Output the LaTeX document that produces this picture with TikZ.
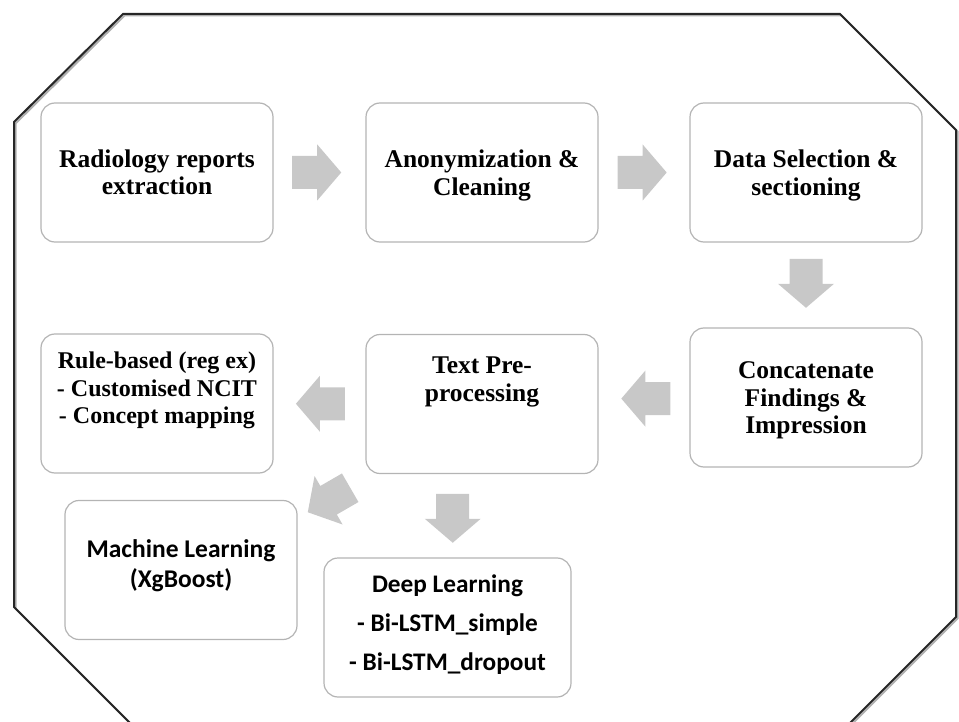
\documentclass[tikz,border=0pt]{standalone}
\usepackage{fontspec}
\setmainfont{Liberation Serif}
\newfontfamily\calibrifont{Carlito}
\usetikzlibrary{calc}
\definecolor{boxline}{RGB}{180,180,180}
\definecolor{arrowfill}{RGB}{200,200,200}
\definecolor{frameshadow}{RGB}{175,175,175}
\tikzset{
  box/.style={draw=boxline, line width=1.2pt, rounded corners=14pt, fill=white,
    minimum width=232pt, minimum height=139pt, inner sep=0pt},
  serif/.style={font=\bfseries\fontsize{25.5}{27.5}\selectfont, align=center, inner sep=0pt},
  ruletxt/.style={font=\bfseries\fontsize{24}{27.5}\selectfont, align=center, inner sep=0pt},
  sanstxt/.style={font=\calibrifont\bfseries\fontsize{25.5}{30}\selectfont, align=center, inner sep=0pt},
  dltxt/.style={font=\calibrifont\bfseries\fontsize{25.3}{39}\selectfont, align=center, inner sep=0pt},
  blockarrow/.pic={
    \fill[arrowfill] (-24.5,-16.5) -- (0.5,-16.5) -- (0.5,-28) -- (24.5,0)
      -- (0.5,28) -- (0.5,16.5) -- (-24.5,16.5) -- cycle;
    \coordinate (-c) at (0,0);
  },
  frame/.style={line width=2pt, line join=miter}
}
\begin{document}
\begin{tikzpicture}[x=1pt,y=-1pt]
\useasboundingbox (0,0) rectangle (959,722);
\clip (0,0) rectangle (959,722);
% octagon frame
\draw[frame, frameshadow, shift={(1.5,1.5)}] (123,14) -- (840,14) -- (956,130) -- (956,617) -- (826,747) -- (154,747) -- (14,607) -- (14,122) -- cycle;
\draw[frame, black!85] (123,14) -- (840,14) -- (956,130) -- (956,617) -- (826,747) -- (154,747) -- (14,607) -- (14,122) -- cycle;

% boxes
\node[box] (b1) at (157,172.5) {};
\node[box] (b2) at (482,172.5) {};
\node[box] (b3) at (806,172.5) {};
\node[box] (b4) at (806,397.5) {};
\node[box] (b5) at (482,404) {};
\node[box] (b6) at (157,403.5) {};
\node[box] (b7) at (181,570) {};
\node[box, minimum width=247pt] (b8) at (447.5,627.5) {};

% texts
\node[serif] (t1) at (b1.center) {Radiology reports\\extraction};
\node[serif] (t2) at ($(b2.center)+(0,3)$) {Anonymization \&\\Cleaning};
\node[serif] (t3) at ($(b3.center)+(0,3)$) {Data Selection \&\\sectioning};
\node[serif] (t4) at ($(b4.center)+(0,3)$) {Concatenate\\Findings \&\\Impression};
\node[serif] (t5) at ($(b5.center)+(0,-22)$) {Text Pre-\\processing};
\node[ruletxt] (t6) at ($(b6.center)+(0,-13)$) {Rule-based (reg ex)\\- Customised NCIT\\- Concept mapping};
\node[sanstxt] (t7) at ($(b7.center)+(0,-4)$) {Machine Learning\\(XgBoost)};
\node[dltxt] (t8) at ($(b8.center)+(0,-3)$) {Deep Learning\\- Bi-LSTM\_simple\\- Bi-LSTM\_dropout};

% block arrows
\path ($(b1.east)!0.47!(b2.west)$) pic (a1) {blockarrow};
\path ($(b2.east)!0.48!(b3.west)$) pic (a2) {blockarrow};
\path ($(b3.south)!0.48!(b4.north)$) pic[rotate=270] (a3) {blockarrow};
\path ($(b5.east)!0.52!(b4.west)+(0,-2)$) pic[rotate=180] (a4) {blockarrow};
\path ($(b6.east)!0.51!(b5.west)$) pic[rotate=180] (a5) {blockarrow};
\path (329,500) pic[rotate=210] (a6) {blockarrow};
\path ($(b5.south)!0.53!(b8.north)+(-11,0)$) pic[rotate=270] (a7) {blockarrow};
\end{tikzpicture}
\end{document}
